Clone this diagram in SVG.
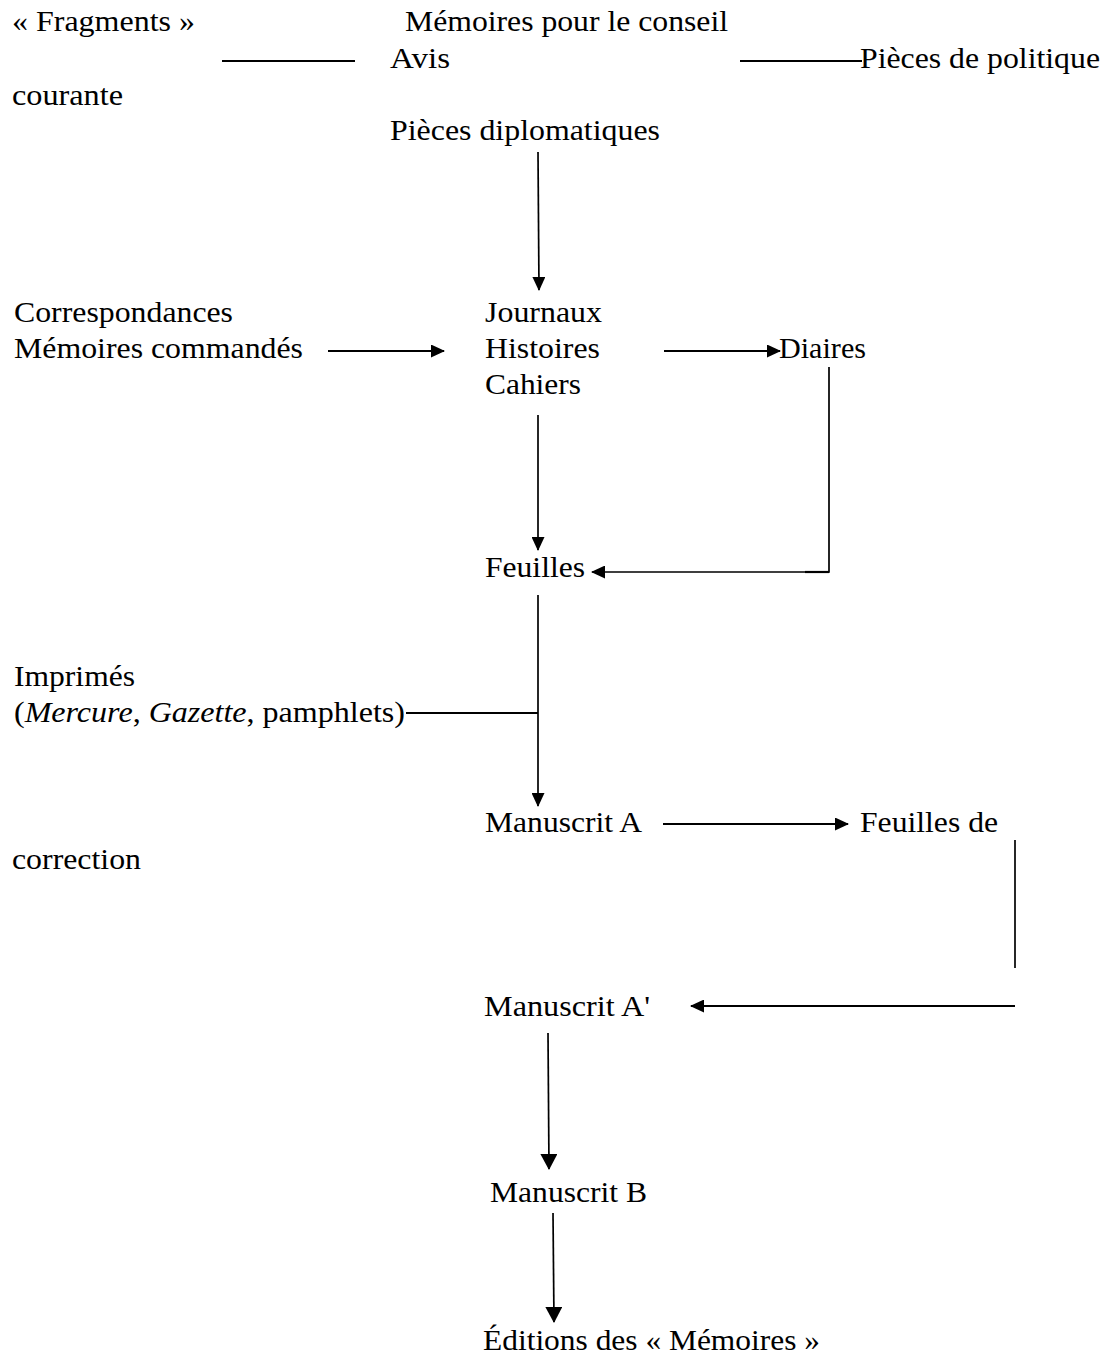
<svg xmlns="http://www.w3.org/2000/svg" width="1108" height="1356" viewBox="0 0 1108 1356">
<style>
text{font-family:"Liberation Serif","Times New Roman",serif;font-size:30px;fill:#000}
.ln{stroke:#000;stroke-width:1.7;fill:none}
.hz{stroke-width:2.2}
.it{font-style:italic}
</style>
<defs>
<marker id="ah" markerWidth="14" markerHeight="13" refX="13" refY="6.5" orient="auto" markerUnits="userSpaceOnUse">
<path d="M0,0 L14,6.5 L0,13 Z" fill="#000"/>
</marker>
<marker id="ahb" markerWidth="16" markerHeight="17" refX="15" refY="8.5" orient="auto" markerUnits="userSpaceOnUse">
<path d="M0,0 L16,8.5 L0,17 Z" fill="#000"/>
</marker>
</defs>
<rect width="1108" height="1356" fill="#fff"/>
<g id="connectors">
<line class="ln hz" x1="222" y1="61" x2="355" y2="61"/>
<line class="ln hz" x1="740" y1="61" x2="862" y2="61"/>
<line class="ln" x1="538" y1="152" x2="539" y2="290" marker-end="url(#ah)"/>
<line class="ln hz" x1="328" y1="351" x2="444" y2="351" marker-end="url(#ah)"/>
<line class="ln hz" x1="664" y1="351" x2="780" y2="351" marker-end="url(#ah)"/>
<line class="ln" x1="538" y1="415" x2="538" y2="550" marker-end="url(#ah)"/>
<polyline class="ln" points="829,367 829,572 592,572" marker-end="url(#ah)"/>
<line class="ln hz" x1="805" y1="572" x2="829" y2="572"/>
<line class="ln" x1="538" y1="595" x2="538" y2="806" marker-end="url(#ah)"/>
<line class="ln hz" x1="406" y1="713" x2="538" y2="713"/>
<line class="ln hz" x1="663" y1="824" x2="848" y2="824" marker-end="url(#ah)"/>
<line class="ln" x1="1015" y1="840" x2="1015" y2="968"/>
<line class="ln hz" x1="1015" y1="1006" x2="691" y2="1006" marker-end="url(#ah)"/>
<line class="ln" x1="548" y1="1033" x2="549" y2="1169" marker-end="url(#ahb)"/>
<line class="ln" x1="553" y1="1213" x2="554" y2="1322" marker-end="url(#ahb)"/>
</g>
<g id="n-fragments"><text x="12" y="31" textLength="183" lengthAdjust="spacingAndGlyphs">« Fragments »</text></g>
<g id="n-memoires-conseil">
<text x="405" y="31" textLength="323" lengthAdjust="spacingAndGlyphs">Mémoires pour le conseil</text>
<text x="390" y="68" textLength="60" lengthAdjust="spacingAndGlyphs">Avis</text>
<text x="390" y="140" textLength="270" lengthAdjust="spacingAndGlyphs">Pièces diplomatiques</text>
</g>
<g id="n-politique">
<text x="860" y="68" textLength="240" lengthAdjust="spacingAndGlyphs">Pièces de politique</text>
<text x="12" y="105" textLength="111" lengthAdjust="spacingAndGlyphs">courante</text>
</g>
<g id="n-correspondances">
<text x="14" y="322" textLength="219" lengthAdjust="spacingAndGlyphs">Correspondances</text>
<text x="14" y="358" textLength="289" lengthAdjust="spacingAndGlyphs">Mémoires commandés</text>
</g>
<g id="n-journaux">
<text x="485" y="322" textLength="117" lengthAdjust="spacingAndGlyphs">Journaux</text>
<text x="485" y="358" textLength="115" lengthAdjust="spacingAndGlyphs">Histoires</text>
<text x="485" y="394" textLength="96" lengthAdjust="spacingAndGlyphs">Cahiers</text>
</g>
<g id="n-diaires"><text x="779" y="358" textLength="87" lengthAdjust="spacingAndGlyphs">Diaires</text></g>
<g id="n-feuilles"><text x="485" y="577" textLength="100" lengthAdjust="spacingAndGlyphs">Feuilles</text></g>
<g id="n-imprimes">
<text x="14" y="686" textLength="121" lengthAdjust="spacingAndGlyphs">Imprimés</text>
<text x="14" y="722" textLength="391" lengthAdjust="spacingAndGlyphs">(<tspan class="it">Mercure</tspan>, <tspan class="it">Gazette</tspan>, pamphlets)</text>
</g>
<g id="n-manuscrit-a"><text x="485" y="832" textLength="157" lengthAdjust="spacingAndGlyphs">Manuscrit A</text></g>
<g id="n-feuilles-correction">
<text x="860" y="832" textLength="138" lengthAdjust="spacingAndGlyphs">Feuilles de</text>
<text x="12" y="869" textLength="129" lengthAdjust="spacingAndGlyphs">correction</text>
</g>
<g id="n-manuscrit-a2"><text x="484" y="1016" textLength="166" lengthAdjust="spacingAndGlyphs">Manuscrit A'</text></g>
<g id="n-manuscrit-b"><text x="490" y="1202" textLength="157" lengthAdjust="spacingAndGlyphs">Manuscrit B</text></g>
<g id="n-editions"><text x="483" y="1350" textLength="337" lengthAdjust="spacingAndGlyphs">Éditions des « Mémoires »</text></g>
</svg>
